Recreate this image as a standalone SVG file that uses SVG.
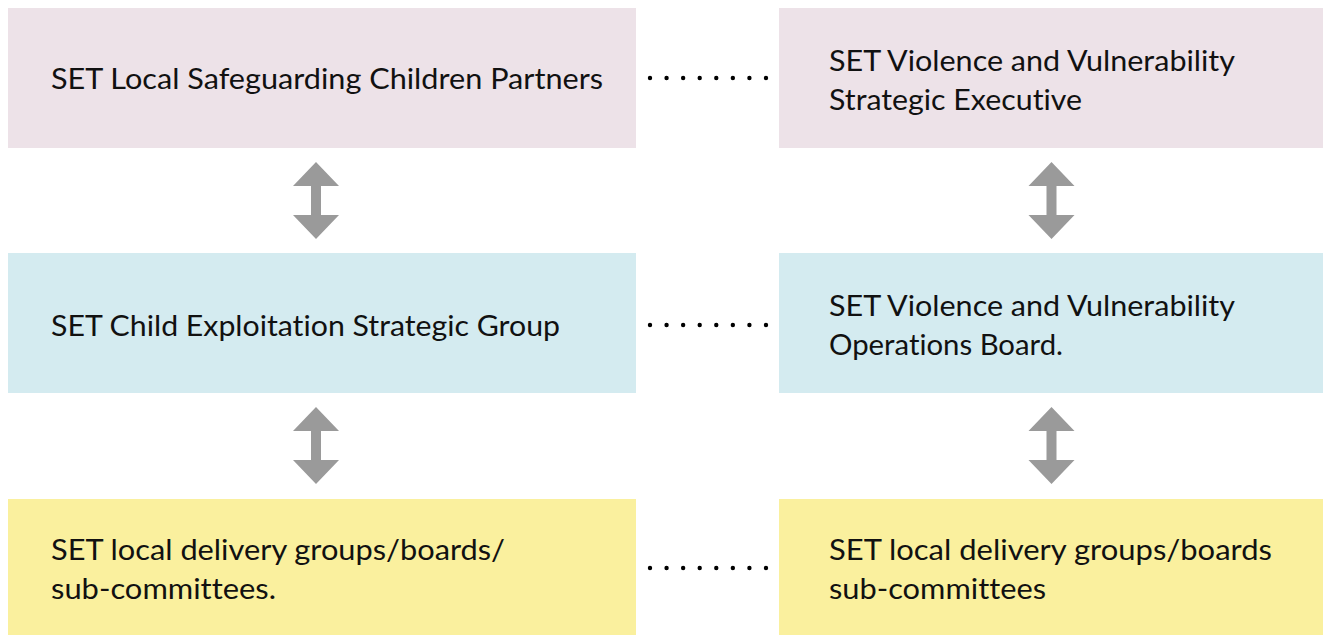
<svg xmlns="http://www.w3.org/2000/svg" xmlns:xlink="http://www.w3.org/1999/xlink" width="1323" height="635" viewBox="0 0 1323 635">
<style>
.pink{fill:#ede2e8}
.blue{fill:#d4ebf0}
.yellow{fill:#faf09e}
.t{font-family:Lato,"Liberation Sans",sans-serif;font-size:28px;fill:#111;font-variant-ligatures:none;font-feature-settings:"liga" 0,"dlig" 0}
.dots{stroke:#000;stroke-width:4.4;stroke-linecap:round;stroke-dasharray:0 16.57;fill:none}
.arr{fill:#9a9a9a}
</style>
<defs>
<path id="dblarrow" class="arr" d="M0,0 L23,24 L5,24 L5,53 L23,53 L0,77 L-23,53 L-5,53 L-5,24 L-23,24 Z"/>
</defs>
<rect width="1323" height="635" fill="#fff"/>
<g id="node-lscp">
<rect class="pink" x="8" y="8" width="628" height="140"/>
<text class="t" x="51" y="89" textLength="552" lengthAdjust="spacingAndGlyphs">SET Local Safeguarding Children Partners</text>
</g>
<g id="node-vv-exec">
<rect class="pink" x="779" y="8" width="544" height="140"/>
<text class="t" x="829" y="71" textLength="406" lengthAdjust="spacingAndGlyphs">SET Violence and Vulnerability</text>
<text class="t" x="829" y="110" textLength="253" lengthAdjust="spacingAndGlyphs">Strategic Executive</text>
</g>
<g id="node-cesg">
<rect class="blue" x="8" y="253" width="628" height="140"/>
<text class="t" x="51" y="336" textLength="509" lengthAdjust="spacingAndGlyphs">SET Child Exploitation Strategic Group</text>
</g>
<g id="node-vv-ops">
<rect class="blue" x="779" y="253" width="544" height="140"/>
<text class="t" x="829" y="316" textLength="406" lengthAdjust="spacingAndGlyphs">SET Violence and Vulnerability</text>
<text class="t" x="829" y="355" textLength="234" lengthAdjust="spacingAndGlyphs">Operations Board.</text>
</g>
<g id="node-local-left">
<rect class="yellow" x="8" y="499" width="628" height="136"/>
<text class="t" x="51" y="560" textLength="454" lengthAdjust="spacingAndGlyphs">SET local delivery groups/boards/</text>
<text class="t" x="51" y="599" textLength="225" lengthAdjust="spacingAndGlyphs">sub-committees.</text>
</g>
<g id="node-local-right">
<rect class="yellow" x="779" y="499" width="544" height="136"/>
<text class="t" x="829" y="560" textLength="443" lengthAdjust="spacingAndGlyphs">SET local delivery groups/boards</text>
<text class="t" x="829" y="599" textLength="217" lengthAdjust="spacingAndGlyphs">sub-committees</text>
</g>
<g id="connectors">
<path class="dots" d="M650,78 H767"/>
<path class="dots" d="M650,325 H767"/>
<path class="dots" d="M650,568 H767"/>
<use xlink:href="#dblarrow" x="316" y="162"/>
<use xlink:href="#dblarrow" x="316" y="407"/>
<use xlink:href="#dblarrow" x="1051.5" y="162"/>
<use xlink:href="#dblarrow" x="1051.5" y="407"/>
</g>
</svg>
